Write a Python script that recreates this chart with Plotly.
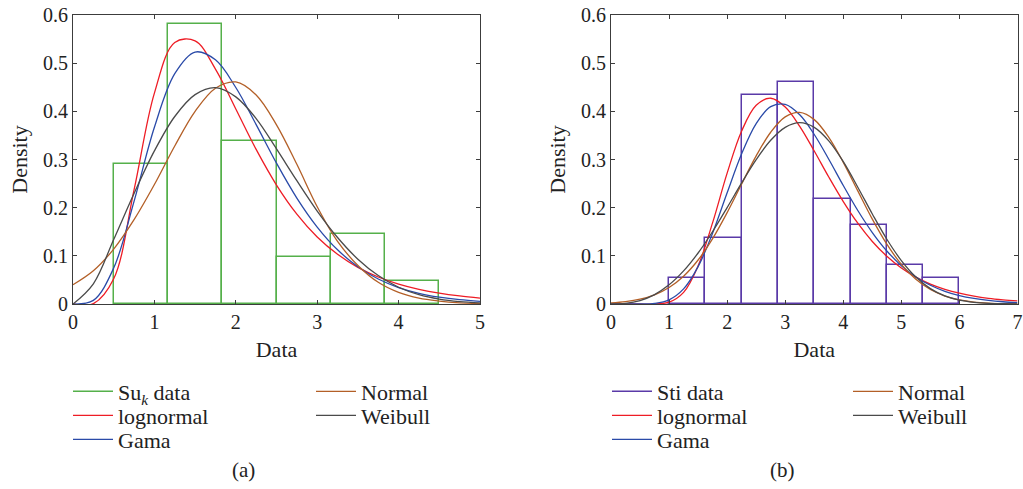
import numpy as np
import plotly.graph_objects as go
from plotly.subplots import make_subplots

# ---------------- panel (a): Su_k ----------------
suk_edges = [0.5, 1.1667, 1.8333, 2.5, 3.1667, 3.8333, 4.5]
suk_density = [0.290, 0.581, 0.339, 0.097, 0.145, 0.048]

x_a = [0, 0.25, 0.5, 0.75, 1.0, 1.25, 1.5, 1.75, 2.0, 2.25, 2.5, 2.75,
       3.0, 3.25, 3.5, 3.75, 4.0, 4.25, 4.5, 4.75, 5.0]
a_lognormal = [0.0, 0.0007, 0.0523, 0.2368, 0.4378, 0.5429, 0.5464, 0.4877,
               0.4048, 0.3209, 0.2470, 0.1866, 0.1392, 0.1032, 0.0761, 0.0561,
               0.0413, 0.0305, 0.0225, 0.0167, 0.0124]
a_gama = [0.0, 0.0076, 0.0747, 0.2132, 0.3670, 0.4782, 0.5231, 0.5069,
          0.4495, 0.3724, 0.2925, 0.2200, 0.1598, 0.1125, 0.0773, 0.0519,
          0.0342, 0.0222, 0.0142, 0.0089, 0.0056]
a_normal = [0.0400, 0.0690, 0.1140, 0.1750, 0.2480, 0.3280, 0.4000, 0.4480,
            0.4610, 0.4340, 0.3720, 0.2900, 0.2020, 0.1300, 0.0800, 0.0450,
            0.0240, 0.0120, 0.0060, 0.0025, 0.0009]
a_weibull = [0.0, 0.0420, 0.1340, 0.2295, 0.3178, 0.3893, 0.4347, 0.4492,
             0.4300, 0.3850, 0.3220, 0.2560, 0.1930, 0.1380, 0.0930, 0.0590,
             0.0348, 0.0193, 0.0101, 0.0049, 0.0023]

# ---------------- panel (b): Sti ----------------
sti_edges = [1.0, 1.625, 2.25, 2.875, 3.5, 4.125, 4.75, 5.375, 6.0]
sti_density = [0.054, 0.136, 0.434, 0.461, 0.217, 0.163, 0.081, 0.054]

x_b = [0, 0.25, 0.5, 0.75, 1.0, 1.25, 1.5, 1.75, 2.0, 2.25, 2.5, 2.75, 3.0,
       3.25, 3.5, 3.75, 4.0, 4.25, 4.5, 4.75, 5.0, 5.25, 5.5, 5.75, 6.0,
       6.25, 6.5, 6.75, 7.0]
b_lognormal = [0.0, 0.0, 0.0, 0.0002, 0.0037, 0.0241, 0.0792, 0.1689, 0.2717,
               0.3593, 0.4126, 0.4272, 0.4090, 0.3689, 0.3176, 0.2636, 0.2127,
               0.1677, 0.1298, 0.0991, 0.0747, 0.0558, 0.0414, 0.0305, 0.0224,
               0.0164, 0.0119, 0.0087, 0.0063]
b_gama = [0.0, 0.0, 0.0001, 0.0013, 0.0086, 0.0313, 0.0775, 0.1473, 0.2309,
          0.3119, 0.3744, 0.4097, 0.4144, 0.3928, 0.3519, 0.3005, 0.2460,
          0.1941, 0.1484, 0.1101, 0.0796, 0.0562, 0.0389, 0.0264, 0.0175,
          0.0115, 0.0074, 0.0047, 0.0030]
b_normal = [0.0023, 0.0049, 0.0100, 0.0191, 0.0343, 0.0577, 0.0913, 0.1358,
            0.1898, 0.2492, 0.3075, 0.3566, 0.3885, 0.3978, 0.3828, 0.3461,
            0.2940, 0.2348, 0.1762, 0.1242, 0.0823, 0.0512, 0.0300, 0.0165,
            0.0085, 0.0041, 0.0019, 0.0008, 0.0003]
b_weibull = [0.0, 0.0013, 0.0071, 0.0196, 0.0398, 0.0687, 0.1059, 0.1505,
             0.2002, 0.2515, 0.2998, 0.3399, 0.3668, 0.3764, 0.3667, 0.3386,
             0.2954, 0.2425, 0.1869, 0.1345, 0.0901, 0.0559, 0.0320, 0.0168,
             0.0080, 0.0035, 0.0014, 0.0005, 0.0002]

GREEN = "#55b04a"
PURPLE = "#5a3aa8"
RED = "#ee1c25"
BLUE = "#2a4aa8"
BROWN = "#b35f27"
DARK = "#4a4a4a"
FONT = "Liberation Serif"
TEXT = "#222222"

W, H = 1023, 489

fig = make_subplots(rows=1, cols=2)


def add_panel(col, edges, dens, data_entry, xs, curves):
    data_name, data_color, data_leg = data_entry
    e = np.asarray(edges, dtype=float)
    centers = (e[:-1] + e[1:]) / 2
    widths = np.diff(e)
    fig.add_trace(go.Bar(x=centers, y=dens, width=widths,
                         marker=dict(color="rgba(0,0,0,0)",
                                     line=dict(color=data_color, width=1.5)),
                         showlegend=False, hoverinfo="skip"),
                  row=1, col=col)
    # legend entry for the histogram, shown as a line sample
    fig.add_trace(go.Scatter(x=[None], y=[None], mode="lines", name=data_name,
                             line=dict(color=data_color, width=1.5),
                             legend=data_leg), row=1, col=col)
    for name, ys, color, leg in curves:
        fig.add_trace(go.Scatter(x=xs, y=ys, mode="lines", name=name,
                                 line=dict(color=color, width=1.3,
                                           shape="spline", smoothing=1.0),
                                 legend=leg), row=1, col=col)


add_panel(1, suk_edges, suk_density,
          ("Su<sub><i>k</i></sub> data", GREEN, "legend"), x_a,
          [("lognormal", a_lognormal, RED, "legend2"),
           ("Gama", a_gama, BLUE, "legend3"),
           ("Normal", a_normal, BROWN, "legend4"),
           ("Weibull", a_weibull, DARK, "legend5")])
add_panel(2, sti_edges, sti_density,
          ("Sti data", PURPLE, "legend6"), x_b,
          [("lognormal", b_lognormal, RED, "legend7"),
           ("Gama", b_gama, BLUE, "legend8"),
           ("Normal", b_normal, BROWN, "legend9"),
           ("Weibull", b_weibull, DARK, "legend10")])

y_top, y_bot = 1 - 15 / H, 1 - 304 / H

axis_common = dict(showline=True, linecolor="#3c3c3c", linewidth=1,
                   mirror="ticks", ticks="inside", ticklen=4, tickwidth=1,
                   tickcolor="#3c3c3c", showgrid=False, zeroline=False,
                   automargin=False, layer="above traces",
                   tickfont=dict(family=FONT, size=20, color=TEXT),
                   title_font=dict(family=FONT, size=22, color=TEXT))

fig.update_xaxes(**axis_common)
fig.update_yaxes(**axis_common)
fig.update_xaxes(range=[0, 5], dtick=1, domain=[73 / W, 480 / W],
                 title_text="Data", title_standoff=9, row=1, col=1)
fig.update_xaxes(range=[0, 7], dtick=1, domain=[611 / W, 1017.5 / W],
                 title_text="Data", title_standoff=9, row=1, col=2)
fig.update_yaxes(range=[0, 0.6], dtick=0.1, domain=[y_bot, y_top],
                 title_text="Density", title_standoff=9, row=1, col=1)
fig.update_yaxes(range=[0, 0.6], dtick=0.1, domain=[y_bot, y_top],
                 title_text="Density", title_standoff=9, row=1, col=2)

# one legend box per entry, arranged as two columns under each panel
leg_style = dict(font=dict(family=FONT, size=22, color=TEXT),
                 bgcolor="rgba(0,0,0,0)", xanchor="left", yanchor="middle",
                 itemwidth=40, itemclick=False, itemdoubleclick=False)
rows_px = [391.5, 415.5, 439.5]
legend_slots = {
    "legend": (68, rows_px[0]), "legend2": (68, rows_px[1]),
    "legend3": (68, rows_px[2]), "legend4": (311, rows_px[0]),
    "legend5": (311, rows_px[1]),
    "legend6": (607, rows_px[0]), "legend7": (607, rows_px[1]),
    "legend8": (607, rows_px[2]), "legend9": (848, rows_px[0]),
    "legend10": (848, rows_px[1]),
}
fig.update_layout(**{k: dict(x=px / W, y=1 - py / H, **leg_style)
                     for k, (px, py) in legend_slots.items()})

for label, xc in (("(a)", 243 / W), ("(b)", 782 / W)):
    fig.add_annotation(text=label, x=xc, y=1 - 470 / H, xref="paper",
                       yref="paper", showarrow=False, xanchor="center",
                       yanchor="middle",
                       font=dict(family=FONT, size=21, color=TEXT))

fig.update_layout(width=W, height=H, margin=dict(l=0, r=0, t=0, b=0),
                  paper_bgcolor="white", plot_bgcolor="white",
                  bargap=0, barmode="overlay", showlegend=True)

fig.write_html("out.html")
